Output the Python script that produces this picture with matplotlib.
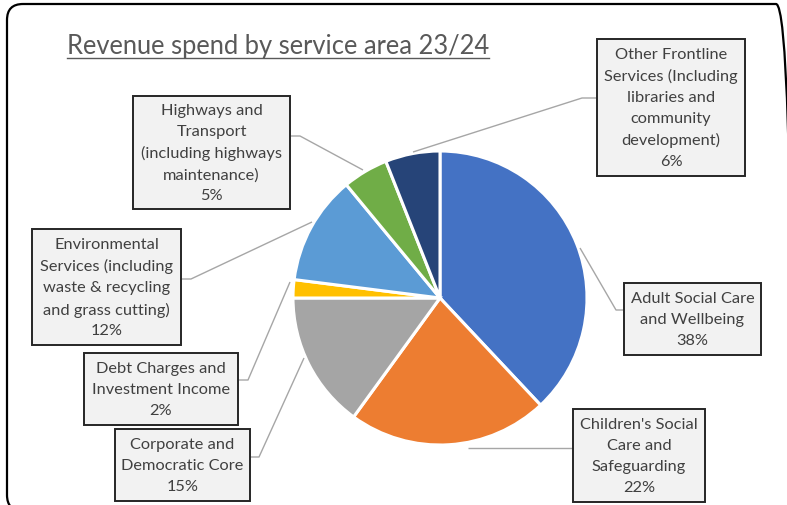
import matplotlib
matplotlib.use("Agg")
import matplotlib.pyplot as plt
from matplotlib.patches import Rectangle, FancyBboxPatch

W, H = 787, 506

# Service areas and their share of revenue spend (%)
categories = [
    "Adult Social Care\nand Wellbeing",
    "Children's Social\nCare and\nSafeguarding",
    "Corporate and\nDemocratic Core",
    "Debt Charges and\nInvestment Income",
    "Environmental\nServices (including\nwaste & recycling\nand grass cutting)",
    "Highways and\nTransport\n(including highways\nmaintenance)",
    "Other Frontline\nServices (Including\nlibraries and\ncommunity\ndevelopment)",
]
values = [38, 22, 15, 2, 12, 5, 6]
colors = ["#4472C4", "#ED7D31", "#A5A5A5", "#FFC000", "#5B9BD5", "#70AD47", "#264478"]
title = "Revenue spend by service area 23/24"

# Label box layout (pixel coords: left, top, right, bottom) and leader-line paths
boxes = [
    (624, 284, 761, 356),
    (573, 410, 705, 503),
    (115, 430, 250, 502),
    (84, 354, 238, 426),
    (32, 230, 181, 346),
    (133, 97, 290, 210),
    (597, 40, 745, 177),
]
leaders = [
    [(580, 249), (616, 311), (624, 311)],
    [(468, 449), (573, 449)],
    [(304, 359), (259, 458), (250, 458)],
    [(290, 283), (248, 381), (238, 381)],
    [(312, 223), (191, 280), (181, 280)],
    [(363, 171), (300, 137), (290, 137)],
    [(413, 153), (582, 99), (597, 99)],
]

FONT = "Lato"
TXT = "#404040"


def Y(y):
    return H - y


fig = plt.figure(figsize=(W / 100, H / 100), dpi=100)
ax = fig.add_axes([0, 0, 1, 1])

ax.pie(values, colors=colors, startangle=90, counterclock=False,
       center=(440, Y(299)), radius=147,
       wedgeprops=dict(edgecolor="white", linewidth=2.2))
ax.set_xlim(0, W)
ax.set_ylim(0, H)
ax.set_aspect("equal")
ax.axis("off")

# Outer rounded frame (runs past the right and bottom edges)
r = 16
frame = FancyBboxPatch((7 + r, Y(512) + r), 792 - 7 - 2 * r, 507 - 2 * r,
                       boxstyle=f"round,pad={r}", fc="none", ec="black",
                       lw=1.6, clip_on=False, zorder=0)
ax.add_patch(frame)

# Leader lines
for path in leaders:
    xs = [p[0] for p in path]
    ys = [Y(p[1]) for p in path]
    ax.plot(xs, ys, color="#A6A6A6", lw=1.0, zorder=1, solid_capstyle="butt")

# Label boxes with category name and percentage
for (x0, y0, x1, y1), name, v in zip(boxes, categories, values):
    ax.add_patch(Rectangle((x0, Y(y1)), x1 - x0, y1 - y0, fc="#F2F2F2",
                           ec="#262626", lw=1.4, zorder=3))
    ax.text((x0 + x1) / 2, Y((y0 + y1) / 2), f"{name}\n{v}%",
            ha="center", va="center", fontsize=11.8, family=FONT,
            color=TXT, linespacing=1.62, zorder=4)

# Underlined title
t = ax.text(67, Y(54), title, ha="left", va="baseline", fontsize=18.4,
            family=FONT, color="#595959")
fig.canvas.draw()
bb = t.get_window_extent().transformed(ax.transData.inverted())
ax.plot([bb.x0, bb.x1], [Y(59), Y(59)], color="#595959", lw=1.0)

fig.savefig("out.png", dpi=100)
